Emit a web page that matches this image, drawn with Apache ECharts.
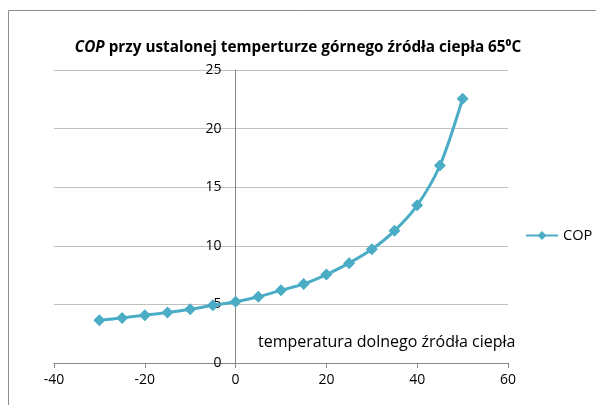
<!DOCTYPE html>
<html><head><meta charset="utf-8">
<script src="https://cdn.jsdelivr.net/npm/echarts@6/dist/echarts.min.js"></script>
<style>html,body{margin:0;padding:0;background:#fff}#c{width:596px;height:405px}</style>
</head><body><div id="c"></div>
<script>
var temps = [-30,-25,-20,-15,-10,-5,0,5,10,15,20,25,30,35,40,45,50];
var cop = [3.65,3.85,4.08,4.3,4.58,4.92,5.22,5.65,6.2,6.75,7.55,8.52,9.7,11.28,13.45,16.85,22.55];
var seriesName = 'COP';
var xLabel = 'temperatura dolnego źródła ciepła';
var font = 'Open Sans';
var diamond = 'path://M0,-1L1,0L0,1L-1,0Z';
var chart = echarts.init(document.getElementById('c'));
chart.setOption({
  animation:false,
  textStyle:{fontFamily:font},
  title:{
    text:'{i|COP} przy ustalonej temperturze górnego źródła ciepła 65⁰C',
    left:'center', top:35,
    textStyle:{fontSize:15.3,fontWeight:'bold',color:'#000',fontFamily:font,
      rich:{i:{fontStyle:'italic',fontWeight:'bold',fontSize:15.3,color:'#000',fontFamily:font}}}
  },
  graphic:[
    {type:'rect',shape:{x:8.5,y:10.5,width:600,height:400},style:{fill:'none',stroke:'#8c8c8c',lineWidth:1},silent:true},
    {type:'text',left:258,top:334,style:{text:xLabel,fontSize:16,fill:'#000',fontFamily:font}}
  ],
  legend:{
    data:[seriesName], left:525, top:228, padding:0, itemWidth:32, itemHeight:11,
    textStyle:{fontSize:14.6,color:'#000',fontFamily:font}
  },
  grid:{left:54,right:88,top:70,bottom:42},
  xAxis:{
    type:'value',min:-40,max:60,interval:20,
    axisLine:{show:true,onZero:false,lineStyle:{color:'#868686'}},
    axisTick:{show:true,length:5,lineStyle:{color:'#868686'}},
    axisLabel:{fontSize:14,color:'#000',margin:10},
    splitLine:{show:false}
  },
  yAxis:{
    type:'value',min:0,max:25,interval:5,offset:-181.6,
    axisLine:{show:true,onZero:false,lineStyle:{color:'#868686'}},
    axisTick:{show:false},
    axisLabel:{fontSize:14,color:'#000',margin:14},
    splitLine:{show:true,lineStyle:{color:'#bfbfbf'}}
  },
  series:[{
    name:seriesName,type:'line',smooth:0.3,
    data:temps.map(function(t,i){return [t,cop[i]];}),
    symbol:diamond,symbolSize:12,
    lineStyle:{color:'#4BACC6',width:3},
    itemStyle:{color:'#4BACC6'}
  }]
});
</script></body></html>
